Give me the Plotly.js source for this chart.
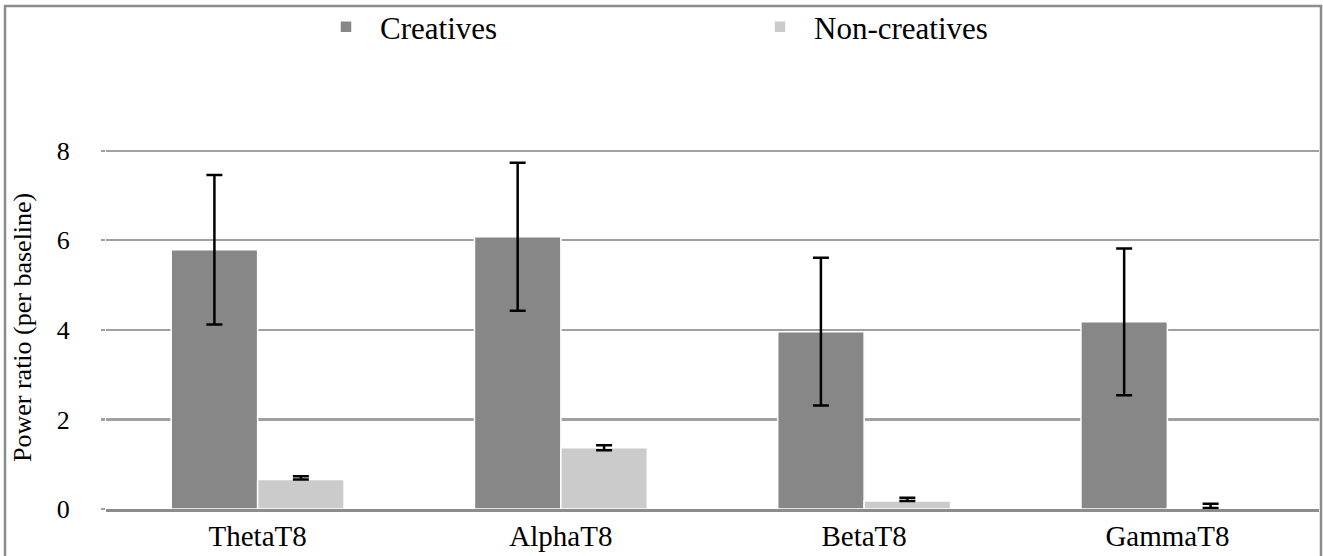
<!DOCTYPE html>
<html>
<head>
<meta charset="utf-8">
<script src="https://cdn.plot.ly/plotly-3.0.1.min.js"></script>
<style>
html,body{margin:0;padding:0;background:#fff;}
#chart{width:1323px;height:556px;}
</style>
</head>
<body>
<div id="chart"></div>
<script>
// Data
const categories = ["ThetaT8", "AlphaT8", "BetaT8", "GammaT8"];
const creatives = [5.79, 6.08, 3.96, 4.18];
const creativesErr = [1.67, 1.65, 1.65, 1.64];
const nonCreatives = [0.66, 1.37, 0.18, 0.02];
const nonCreativesErrPlus = [0.07, 0.056, 0.07, 0.10];
const nonCreativesErrMinus = [0.0, 0.056, 0.0, 0.0];
const yTicks = [0, 2, 4, 6, 8];

const W = 1323, H = 556;
const mL = 106, mR = 4, mT = 106, mB = 47;
const pw = W - mL - mR, ph = H - mT - mB;
const px = v => (v - mL) / pw;
const py = v => (H - mB - v) / ph;

const FONT = "Liberation Serif";

const traces = [
  {
    type: "bar", name: "Creatives", x: categories, y: creatives,
    marker: {color: "#878787", line: {color: "#ffffff", width: 1.5}},
    error_y: {type: "data", array: creativesErr, visible: true, color: "#000000", thickness: 2.5, width: 8}
  },
  {
    type: "bar", name: "Non-creatives", x: categories, y: nonCreatives,
    marker: {color: "#cbcbcb", line: {color: "#ffffff", width: 1.5}},
    error_y: {type: "data", symmetric: false, array: nonCreativesErrPlus, arrayminus: nonCreativesErrMinus,
              visible: true, color: "#000000", thickness: 2.5, width: 8}
  }
];

const layout = {
  width: W, height: H,
  margin: {l: mL, r: mR, t: mT, b: mB, pad: 0, autoexpand: false},
  paper_bgcolor: "#ffffff", plot_bgcolor: "#ffffff",
  font: {family: FONT, color: "#000000", size: 24},
  barmode: "group", bargap: 0.43, bargroupgap: 0,
  showlegend: true,
  legend: {
    orientation: "h", x: px(312), xanchor: "left", y: py(0), yanchor: "top",
    font: {family: FONT, size: 31, color: "#000"},
    entrywidth: 361, entrywidthmode: "pixels", itemwidth: 58,
    bgcolor: "rgba(0,0,0,0)"
  },
  xaxis: {
    type: "category", showgrid: false, zeroline: false,
    showline: true, linecolor: "#8c8c8c", linewidth: 2.5,
    ticks: "", tickfont: {family: FONT, size: 29, color: "#000"},
    ticklabelstandoff: 0, fixedrange: true
  },
  yaxis: {
    range: [0, 9], tickvals: yTicks, ticktext: yTicks.map(String),
    showgrid: true, gridcolor: "#a0a0a0", gridwidth: 2.2,
    zeroline: false, showline: false,
    ticks: "outside", ticklen: 4, tickcolor: "#a0a0a0", tickwidth: 2.2,
    tickfont: {family: FONT, size: 26, color: "#000"},
    ticklabelstandoff: 26, fixedrange: true
  },
  annotations: [
    {
      text: "Power ratio (per baseline)", textangle: -90,
      xref: "paper", yref: "paper", x: px(22), y: py(328),
      xanchor: "center", yanchor: "middle", showarrow: false,
      font: {family: FONT, size: 26, color: "#000"}
    }
  ],
  shapes: [
    {
      type: "rect", xref: "paper", yref: "paper", layer: "above",
      x0: px(5), x1: px(1321), y0: py(562), y1: py(6),
      line: {color: "#8c8c8c", width: 2.5}, fillcolor: "rgba(0,0,0,0)"
    }
  ]
};

Plotly.newPlot("chart", traces, layout, {displayModeBar: false, staticPlot: true});
</script>
</body>
</html>
